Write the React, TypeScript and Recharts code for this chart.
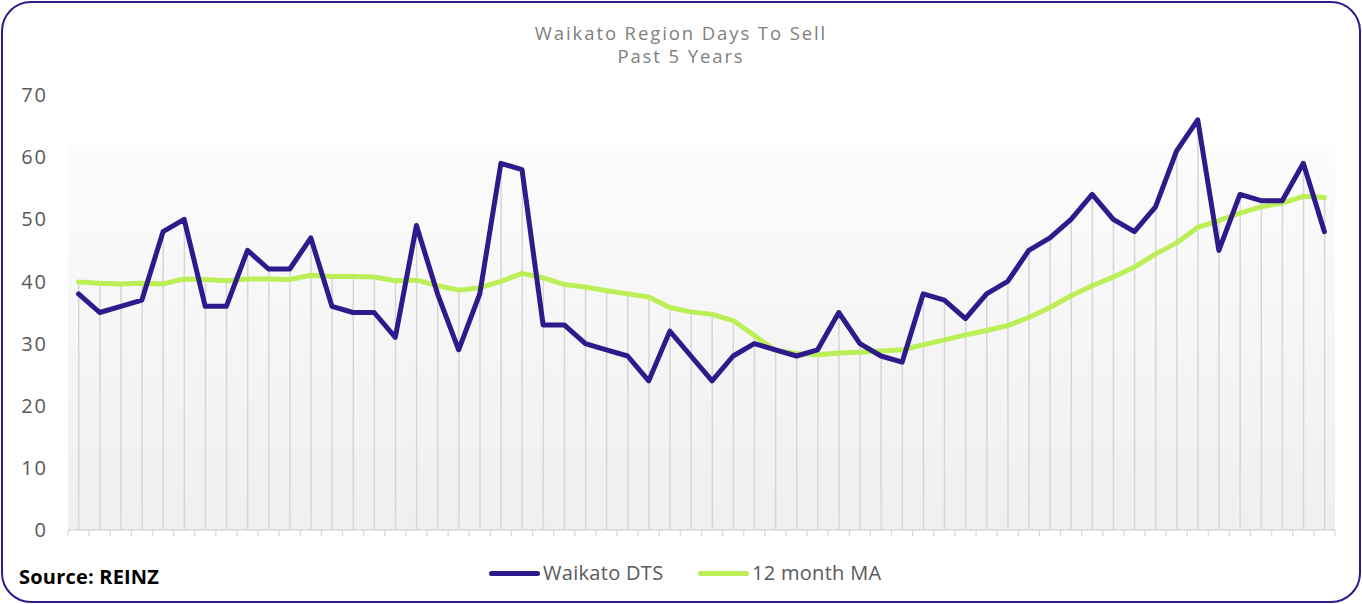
import React from 'react';
import { ComposedChart, Line, Bar, XAxis, YAxis, CartesianGrid } from 'recharts';

const waikatoDTS = [
  38, 35, 36, 37, 48, 50, 36, 36, 45, 42, 42, 47,
  36, 35, 35, 31, 49, 38, 29, 38, 59, 58, 33, 33,
  30, 29, 28, 24, 32, 28, 24, 28, 30, 29, 28, 29,
  35, 30, 28, 27, 38, 37, 34, 38, 40, 45, 47, 50,
  54, 50, 48, 52, 61, 66, 45, 54, 53, 53, 59, 48,
];

const ma12 = [
  39.9, 39.7, 39.6, 39.7, 39.6, 40.4, 40.3, 40.1, 40.4, 40.4, 40.3, 41.0,
  40.8, 40.8, 40.7, 40.1, 40.2, 39.3, 38.6, 39.0, 40.0, 41.3, 40.6, 39.5,
  39.1, 38.5, 38.0, 37.5, 35.8, 35.1, 34.7, 33.7, 31.3, 28.9, 28.4, 28.2,
  28.5, 28.6, 28.8, 29.0, 29.8, 30.6, 31.4, 32.1, 32.9, 34.2, 35.8, 37.7,
  39.3, 40.7, 42.3, 44.4, 46.2, 48.7, 49.8, 51.0, 52.0, 52.6, 53.7, 53.5,
];

const months = waikatoDTS.map((_, i) => `M${i + 1}`);
const yTicks = [0, 10, 20, 30, 40, 50, 60, 70];

const titleLines = ['Waikato Region Days To Sell', 'Past 5 Years'];
const seriesNames = ['Waikato DTS', '12 month MA'];
const sourceText = 'Source: REINZ';

const PURPLE = '#2f1a8b';
const GREEN = '#bcef57';
const FONT = '"Open Sans", sans-serif';

const data = months.map((m, i) => ({
  cat: m,
  dts: waikatoDTS[i],
  ma: ma12[i],
  drop: Math.max(waikatoDTS[i], ma12[i]),
}));

const N = data.length;
const CHART_W = 1362;
const CHART_H = 604;
const MARGIN = { top: 95, right: 27, bottom: 68, left: 0 };
const Y_W = 68;
const PLOT_W = CHART_W - MARGIN.left - MARGIN.right - Y_W;

const BoundaryTick = (props: any) => {
  const { x, y, index } = props;
  const bw = PLOT_W / N;
  return (
    <g>
      <line x1={x - bw / 2} x2={x - bw / 2} y1={y} y2={y + 6} stroke="#d9d9d9" strokeWidth={1.2} />
      {index === N - 1 && (
        <line x1={x + bw / 2} x2={x + bw / 2} y1={y} y2={y + 6} stroke="#d9d9d9" strokeWidth={1.2} />
      )}
    </g>
  );
};

const legendLeft = [489, 698];

export default function App() {
  return (
    <div
      style={{
        position: 'absolute',
        left: 0,
        top: 0,
        width: CHART_W,
        height: CHART_H,
        background: '#fff',
        fontFamily: FONT,
        overflow: 'hidden',
      }}
    >
      <div
        style={{
          position: 'absolute',
          left: 1,
          top: 1,
          width: 1360,
          height: 602,
          boxSizing: 'border-box',
          border: `2.5px solid ${PURPLE}`,
          borderRadius: 30,
          pointerEvents: 'none',
          zIndex: 2,
        }}
      />
      <div
        style={{
          position: 'absolute',
          top: 21,
          left: 0,
          width: CHART_W,
          textAlign: 'center',
          color: '#808080',
          fontSize: 18.5,
          lineHeight: '23.3px',
          letterSpacing: 1.9,
        }}
      >
        {titleLines.map((t) => (
          <div key={t}>{t}</div>
        ))}
      </div>
      <ComposedChart width={CHART_W} height={CHART_H} data={data} margin={MARGIN}>
        <defs>
          <linearGradient id="plotBg" x1="0" y1="0" x2="0" y2="1">
            <stop offset="0" stopColor="#ffffff" />
            <stop offset="0.11" stopColor="#ffffff" />
            <stop offset="0.115" stopColor="#fcfcfc" />
            <stop offset="1" stopColor="#efefef" />
          </linearGradient>
        </defs>
        <CartesianGrid horizontal={false} vertical={false} fill="url(#plotBg)" stroke="none" />
        <XAxis
          dataKey="cat"
          height={6}
          interval={0}
          tickLine={false}
          tickSize={0}
          tickMargin={0}
          axisLine={{ stroke: '#d9d9d9', strokeWidth: 1.5 }}
          tick={<BoundaryTick />}
        />
        <YAxis
          width={Y_W}
          domain={[0, 70]}
          ticks={yTicks}
          interval={0}
          axisLine={false}
          tickLine={false}
          tickSize={0}
          tickMargin={20}
          tick={{ fill: '#595959', fontSize: 20, fontFamily: FONT, letterSpacing: 2 }}
        />
        <Bar dataKey="drop" barSize={1.5} fill="#d6d6d6" isAnimationActive={false} />
        <Line
          dataKey="ma"
          stroke={GREEN}
          strokeWidth={5}
          dot={false}
          strokeLinejoin="round"
          strokeLinecap="round"
          isAnimationActive={false}
        />
        <Line
          dataKey="dts"
          stroke={PURPLE}
          strokeWidth={5}
          dot={false}
          strokeLinejoin="round"
          strokeLinecap="round"
          isAnimationActive={false}
        />
      </ComposedChart>
      {seriesNames.map((name, i) => (
        <div
          key={name}
          style={{
            position: 'absolute',
            left: legendLeft[i],
            top: 561,
            display: 'flex',
            alignItems: 'center',
            color: '#595959',
            fontSize: 20,
            lineHeight: '24px',
            letterSpacing: 0.3,
            whiteSpace: 'nowrap',
          }}
        >
          <div
            style={{
              width: 51,
              height: 5,
              borderRadius: 3,
              background: i === 0 ? PURPLE : GREEN,
              marginRight: 3,
            }}
          />
          <span>{name}</span>
        </div>
      ))}
      <div
        style={{
          position: 'absolute',
          left: 19,
          top: 565,
          fontSize: 20,
          fontWeight: 700,
          color: '#000',
          lineHeight: '24px',
          letterSpacing: 0.2,
        }}
      >
        {sourceText}
      </div>
    </div>
  );
}
